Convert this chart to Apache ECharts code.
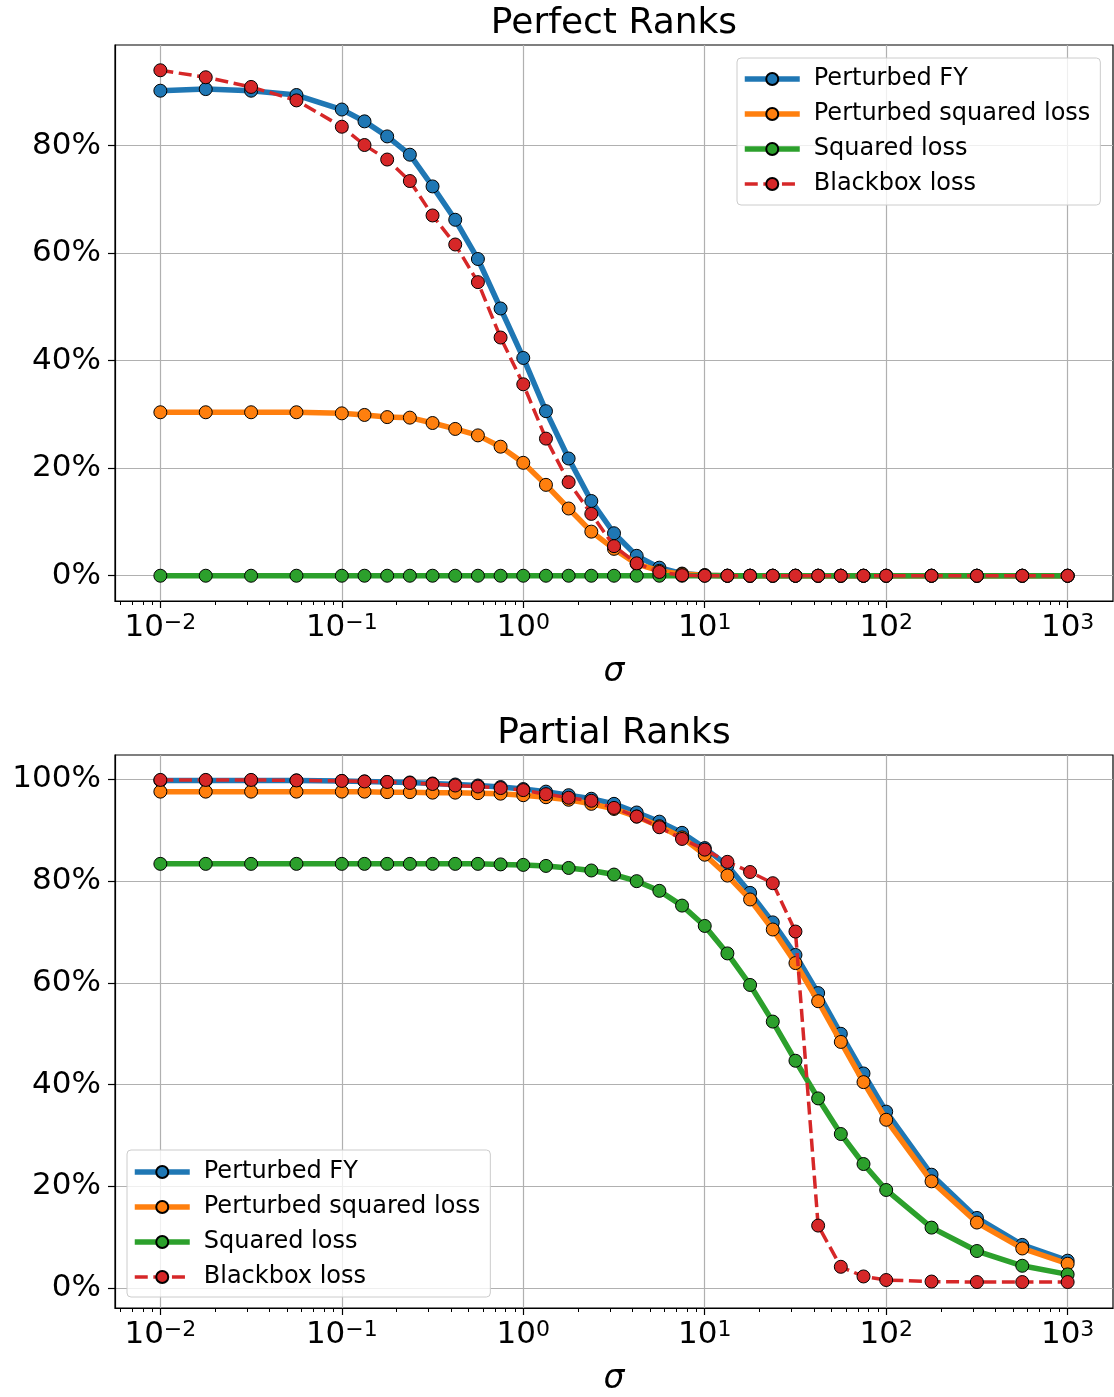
<!DOCTYPE html>
<html><head><meta charset="utf-8">
<script src="https://cdn.jsdelivr.net/npm/echarts@6/dist/echarts.min.js"></script>
<style>html,body{margin:0;padding:0;background:#fff}#c{width:1114px;height:1397px}</style>
</head><body><div id="c"></div>
<script>
// sigma values as log10 exponents
const sigmaExp = [-2, -1.75, -1.5, -1.25, -1, -0.875, -0.75, -0.625, -0.5, -0.375, -0.25, -0.125,
  0, 0.125, 0.25, 0.375, 0.5, 0.625, 0.75, 0.875, 1, 1.125, 1.25, 1.375, 1.5, 1.625, 1.75, 1.875,
  2, 2.25, 2.5, 2.75, 3];

const seriesNames = ['Perturbed FY', 'Perturbed squared loss', 'Squared loss', 'Blackbox loss'];
const seriesColors = ['#1f77b4', '#ff7f0e', '#2ca02c', '#d62728'];

// Perfect Ranks (%)
const perfectFY = [90.2, 90.5, 90.2, 89.4, 86.7, 84.5, 81.7, 78.3, 72.4, 66.2, 58.9, 49.7, 40.5, 30.6, 21.8, 13.9, 7.9, 3.7, 1.5, 0.4, 0.1, 0, 0, 0, 0, 0, 0, 0, 0, 0, 0, 0, 0];
const perfectPertSq = [30.4, 30.4, 30.4, 30.4, 30.2, 29.9, 29.5, 29.4, 28.4, 27.3, 26.1, 24.0, 21.0, 16.9, 12.5, 8.2, 5.0, 2.2, 0.9, 0.3, 0.1, 0, 0, 0, 0, 0, 0, 0, 0, 0, 0, 0, 0];
const perfectSq = [0, 0, 0, 0, 0, 0, 0, 0, 0, 0, 0, 0, 0, 0, 0, 0, 0, 0, 0, 0, 0, 0, 0, 0, 0, 0, 0, 0, 0, 0, 0, 0, 0];
const perfectBB = [94.0, 92.7, 90.9, 88.4, 83.5, 80.1, 77.4, 73.4, 67.0, 61.6, 54.6, 44.3, 35.6, 25.5, 17.4, 11.5, 5.5, 2.3, 0.7, 0.1, 0, 0, 0, 0, 0, 0, 0, 0, 0, 0, 0, 0, 0];

// Partial Ranks (%)
const partialFY = [99.8, 99.8, 99.8, 99.8, 99.7, 99.6, 99.5, 99.4, 99.2, 99.0, 98.8, 98.5, 98.1, 97.6, 96.9, 96.2, 95.2, 93.5, 91.7, 89.5, 86.5, 83.1, 77.7, 71.9, 65.5, 58.0, 50.0, 42.2, 34.7, 22.3, 13.8, 8.5, 5.4];
const partialPertSq = [97.6, 97.6, 97.6, 97.6, 97.6, 97.6, 97.5, 97.5, 97.4, 97.4, 97.3, 97.2, 96.9, 96.5, 96.0, 95.2, 94.2, 92.7, 90.8, 88.6, 85.2, 81.1, 76.4, 70.5, 63.9, 56.4, 48.4, 40.5, 33.1, 21.0, 12.9, 7.8, 4.8];
const partialSq = [83.4, 83.4, 83.4, 83.4, 83.4, 83.4, 83.4, 83.4, 83.4, 83.4, 83.4, 83.3, 83.2, 83.0, 82.6, 82.1, 81.3, 80.0, 78.1, 75.2, 71.2, 65.8, 59.6, 52.4, 44.7, 37.3, 30.3, 24.4, 19.3, 11.9, 7.3, 4.4, 2.7];
const partialBB = [99.9, 99.9, 99.9, 99.8, 99.7, 99.6, 99.5, 99.3, 99.1, 98.8, 98.6, 98.3, 97.9, 97.1, 96.4, 95.8, 94.4, 92.7, 90.6, 88.3, 86.2, 83.8, 81.8, 79.6, 70.1, 12.3, 4.2, 2.3, 1.6, 1.3, 1.2, 1.2, 1.2];

// tick values
const xTickExp = [-2, -1, 0, 1, 2, 3];
const yTicksPerfect = [0, 20, 40, 60, 80];
const yTicksPartial = [0, 20, 40, 60, 80, 100];
const titles = ['Perfect Ranks', 'Partial Ranks'];
const xLabel = 'σ';

const FONT = 'DejaVu Sans';
const xMin = -2.25, xMax = 3.25;
const minorTicks = [];
for (let n = -3; n <= 3; n++) for (let k = 2; k <= 9; k++) {
  const v = n + Math.log10(k);
  if (v > xMin && v < xMax) minorTicks.push(v);
}

const gridTops = [45, 755];
const gridH = 556;
const yRanges = [[-4.7, 98.7], [-3.9, 104.8]];
const yTicks = [yTicksPerfect, yTicksPartial];
const dataSets = [
  [perfectFY, perfectPertSq, perfectSq, perfectBB],
  [partialFY, partialPertSq, partialSq, partialBB]
];

function expLabel(v) {
  const r = Math.round(v);
  const e = r < 0 ? '\u2212' + (-r) : String(r);
  return '{b|10}{s|' + e + '}';
}

const grid = [], xAxis = [], yAxis = [], series = [], legend = [], title = [];
for (let g = 0; g < 2; g++) {
  grid.push({left: 115, top: gridTops[g], width: 998, height: gridH, show: true,
    borderColor: '#000', borderWidth: 1.2, backgroundColor: 'transparent'});
  title.push({text: titles[g], left: 614, top: gridTops[g] - 41, textAlign: 'center', padding: 0,
    textStyle: {fontFamily: FONT, fontSize: 36, fontWeight: 'normal', color: '#000', lineHeight: 40}});
  xAxis.push({
    type: 'value', gridIndex: g, min: xMin, max: xMax,
    axisLine: {show: true, onZero: false, lineStyle: {color: '#000', width: 1.2}},
    axisTick: {show: true, customValues: xTickExp, length: 7, lineStyle: {color: '#000', width: 1.2}},
    axisLabel: {customValues: xTickExp, margin: 11, formatter: expLabel,
      rich: {
        b: {fontFamily: FONT, fontSize: 31, lineHeight: 31, color: '#000'},
        s: {fontFamily: FONT, fontSize: 22, lineHeight: 15, verticalAlign: 'top', color: '#000'}
      }},
    splitLine: {show: true, lineStyle: {color: '#b0b0b0', width: 1.2}},
    name: xLabel, nameLocation: 'middle', nameGap: 55,
    nameTextStyle: {fontFamily: FONT, fontSize: 33, fontStyle: 'italic', color: '#000'}
  });
  xAxis.push({
    type: 'value', gridIndex: g, min: xMin, max: xMax, position: 'bottom',
    axisLine: {show: false, onZero: false},
    axisTick: {show: true, customValues: minorTicks, length: 4, lineStyle: {color: '#000', width: 1}},
    axisLabel: {show: false},
    splitLine: {show: false}
  });
  yAxis.push({
    type: 'value', gridIndex: g, min: yRanges[g][0], max: yRanges[g][1],
    axisLine: {show: true, onZero: false, lineStyle: {color: '#000', width: 1.2}},
    axisTick: {show: true, customValues: yTicks[g], length: 7, lineStyle: {color: '#000', width: 1.2}},
    axisLabel: {customValues: yTicks[g], margin: 14, formatter: '{value}%',
      fontFamily: FONT, fontSize: 31, color: '#000'},
    splitLine: {show: true, lineStyle: {color: '#b0b0b0', width: 1.2}}
  });
  for (let s = 0; s < 4; s++) {
    const dashed = s === 3;
    series.push({
      type: 'line', name: seriesNames[s], xAxisIndex: g * 2, yAxisIndex: g,
      data: sigmaExp.map((x, i) => [x, dataSets[g][s][i]]),
      z: 3 + s,
      symbol: 'circle', symbolSize: 13, showAllSymbol: true,
      lineStyle: {color: seriesColors[s], width: dashed ? 3.5 : 5.5, type: dashed ? [13, 5.6] : 'solid'},
      itemStyle: {color: seriesColors[s], borderColor: '#000', borderWidth: 1},
      emphasis: {disabled: true},
      animation: false
    });
  }
  legend.push({
    show: true, orient: 'vertical',
    left: g === 0 ? 737 : 127, top: g === 0 ? 58 : 1150,
    padding: g === 0 ? [6, 10, 6, 5] : [7, 10, 5, 5], itemGap: 5, itemWidth: 55, itemHeight: 15,
    backgroundColor: 'rgba(255,255,255,0.8)', borderColor: '#cccccc', borderWidth: 1, borderRadius: 4,
    textStyle: {fontFamily: FONT, fontSize: 24, color: '#000', lineHeight: 30, padding: [0, 0, 0, 9]},
    selectedMode: false,
    data: seriesNames.map((n, i) => ({
      name: n,
      lineStyle: {width: i === 3 ? 3.5 : 5.5, type: i === 3 ? [13, 5.6] : 'solid', color: seriesColors[i]}
    }))
  });
}

const chart = echarts.init(document.getElementById('c'), null, {renderer: 'canvas'});
chart.setOption({
  animation: false,
  backgroundColor: '#fff',
  textStyle: {fontFamily: FONT},
  title, grid, xAxis, yAxis, series, legend
});
</script></body></html>
